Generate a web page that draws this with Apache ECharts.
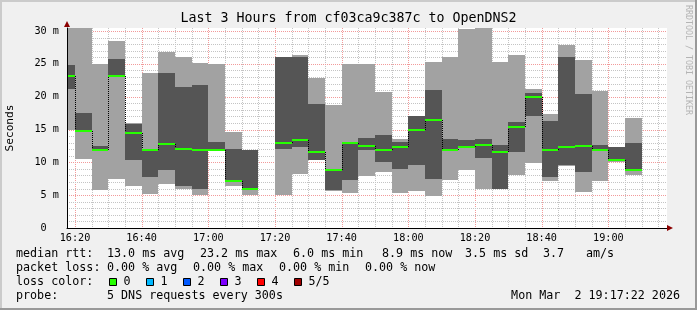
<!DOCTYPE html>
<html><head><meta charset="utf-8">
<script src="https://cdn.jsdelivr.net/npm/echarts@6/dist/echarts.min.js"></script>
<style>html,body{margin:0;padding:0;background:#f0f0f0}#c{width:697px;height:310px}</style>
</head><body><div id="c"></div>
<script>
// ---- data (ms), one entry per 5-minute interval, labelled by interval end ----
const intervalEnds = ['16:20','16:25','16:30','16:35','16:40','16:45','16:50','16:55','17:00','17:05','17:10','17:15','17:20','17:25','17:30','17:35','17:40','17:45','17:50','17:55','18:00','18:05','18:10','18:15','18:20','18:25','18:30','18:35','18:40','18:45','18:50','18:55','19:00','19:05','19:10'];
const pingMin   = [14.9,10.5,5.8,7.5,6.4,5.2,6.7,6.0,5.0,11.7,6.4,5.0,null,5.0,8.2,10.3,5.7,5.3,7.9,8.5,5.3,5.6,4.9,7.3,8.9,5.9,5.9,8.1,9.95,7.2,9.5,5.5,7.2,10.0,8.0];
const pingLow   = [21.2,14.6,11.8,23.0,10.4,7.8,8.8,6.4,6.0,11.8,7.0,5.9,null,12.0,12.3,10.4,5.8,7.3,11.9,10.05,9.0,9.6,7.5,11.85,12.2,10.7,5.95,11.6,17.05,7.8,9.6,8.6,11.7,10.2,8.7];
const medianRtt = [23.2,14.8,11.9,23.2,14.5,11.9,12.8,12.1,11.9,11.9,7.2,6.0,null,13.0,13.45,11.5,8.9,13.0,12.5,11.9,12.3,15.0,16.5,11.9,12.3,12.7,11.6,15.4,20.0,11.9,12.3,12.5,11.9,10.4,8.9];
const pingHigh  = [24.8,17.5,12.5,25.7,15.9,12.1,23.6,21.5,21.8,13.1,12.1,11.9,null,26.0,26.1,18.9,9.0,13.1,13.7,14.2,13.1,17.05,21.0,13.55,13.4,13.5,12.6,16.2,20.5,16.3,26.0,20.4,12.6,12.3,12.9];
const pingMax   = [31,31,25.0,28.5,16.0,23.6,26.8,26.0,25.2,25.0,14.6,11.95,null,26.05,26.3,22.9,18.7,25.0,25.0,20.7,13.55,17.1,25.25,26.0,30.3,31,25.3,26.3,21.2,17.4,27.9,25.6,20.9,12.35,16.75];

// ---- axes ----
const xTickLabels = ['16:20','16:40','17:00','17:20','17:40','18:00','18:20','18:40','19:00'];
const yTickValues = [0,5,10,15,20,25,30];
const viewStart = '16:17:36', viewEnd = '19:17:36';
const stepMinutes = 5;
const yTop = 30.46;

const lossColors = ['#26ff00','#00b8ff','#0059ff','#7e00ff','#ff0000','#a00000'];
const lossLabels = ['0','1','2','3','4','5/5'];

function toMin(s){ const p = s.split(':').map(Number); return p[0]*60 + p[1] + (p[2]||0)/60; }
function fmt(m){ const h = Math.floor(m/60), mm = Math.round(m - h*60); return String(h).padStart(2,'0') + ':' + String(mm).padStart(2,'0'); }

const xMin = toMin(viewStart), xMax = toMin(viewEnd);
const majorX = xTickLabels.map(toMin);

// grid lines: [kind(0 vertical/1 horizontal), value, major]
const gridLines = [];
for (let t = toMin('16:20'); t < xMax; t += stepMinutes) gridLines.push([0, t, majorX.indexOf(t) >= 0 ? 1 : 0]);
for (let v = 1; v <= 30; v++) gridLines.push([1, v, v % 5 === 0 ? 1 : 0]);

// bar data
const bars = [];
intervalEnds.forEach((e, i) => {
  if (medianRtt[i] == null) return;
  const end = toMin(e);
  const prev = (i > 0 && medianRtt[i-1] != null) ? medianRtt[i-1] : -1;
  bars.push([end - stepMinutes, end, pingMin[i], pingLow[i], medianRtt[i], pingHigh[i], pingMax[i], prev]);
});

const mono = 'DejaVu Sans Mono';
const legendFont = '11.7px "' + mono + '"';

function renderGrid(params, api){
  const cs = params.coordSys;
  const kind = api.value(0), v = api.value(1), major = api.value(2);
  const color = major ? '#f29a9a' : '#c4c4c4';
  if (kind === 0) {
    const x = Math.round(api.coord([v, 0])[0]) + 0.5;
    return {type:'line', shape:{x1:x, y1:cs.y, x2:x, y2:cs.y+cs.height}, style:{stroke:color, lineWidth:1, lineDash:[1,1]}, silent:true};
  } else {
    const y = Math.round(api.coord([xMin, v])[1]) + 0.5;
    return {type:'line', shape:{x1:cs.x, y1:y, x2:cs.x+cs.width, y2:y}, style:{stroke:color, lineWidth:1, lineDash:[1,1]}, silent:true};
  }
}

function renderBar(params, api){
  const cs = params.coordSys;
  const X = v => Math.round(api.coord([v, 0])[0]);
  const Y = v => Math.round(api.coord([xMin, v])[1]);
  const xa = Math.max(cs.x, X(api.value(0)));
  const xb = Math.min(cs.x + cs.width, X(api.value(1)));
  const w = xb - xa;
  if (w <= 0) return null;
  const yMax = Math.max(cs.y, Y(api.value(6)));
  const yMinv = Y(api.value(2));
  const yHigh = Math.max(cs.y, Y(api.value(5)));
  const yLow = Y(api.value(3));
  const yMed = Y(api.value(4));
  const prev = api.value(7);
  const children = [
    {type:'rect', shape:{x:xa, y:yMax, width:w, height:Math.max(0, yMinv - yMax)}, style:{fill:'#a2a2a2'}},
    {type:'rect', shape:{x:xa, y:yHigh, width:w, height:Math.max(1, yLow - yHigh)}, style:{fill:'#555555'}}
  ];
  if (prev >= 0 && X(api.value(0)) >= cs.x) {
    const yp = Y(prev);
    children.push({type:'line', shape:{x1:xa+0.5, y1:yp, x2:xa+0.5, y2:yMed}, style:{stroke:'#000', lineWidth:1, lineDash:[1,1]}});
  }
  children.push({type:'rect', shape:{x:xa, y:yMed-1, width:w, height:2}, style:{fill:lossColors[0]}});
  return {type:'group', children};
}

const chart = echarts.init(document.getElementById('c'), null, {renderer:'canvas'});

function label(text, x, y, align){
  return {type:'text', x, y, silent:true, style:{text, fill:'#000', font:legendFont, align:align || 'left', verticalAlign:'middle'}};
}

const graphics = [
  // frame
  {type:'rect', shape:{x:0, y:0, width:697, height:2}, style:{fill:'#cbcbcb'}, silent:true},
  {type:'rect', shape:{x:0, y:0, width:2, height:310}, style:{fill:'#cbcbcb'}, silent:true},
  {type:'rect', shape:{x:0, y:308, width:697, height:2}, style:{fill:'#999999'}, silent:true},
  {type:'rect', shape:{x:695, y:0, width:2, height:310}, style:{fill:'#999999'}, silent:true},
  // arrows
  {type:'polygon', shape:{points:[[64,27],[70,27],[67,21]]}, style:{fill:'#8b0000'}, silent:true, z:50},
  {type:'polygon', shape:{points:[[667,225],[667,231],[673,228]]}, style:{fill:'#8b0000'}, silent:true, z:50},
  // title
  {type:'text', x:348.5, y:19, silent:true, style:{text:'Last 3 Hours from cf03ca9c387c to OpenDNS2', fill:'#000', font:'13.3px "' + mono + '"', align:'center', verticalAlign:'middle'}},
  // y axis name
  {type:'text', x:10, y:128, rotation:Math.PI/2, silent:true, style:{text:'Seconds', fill:'#000', font:'11.2px "' + mono + '"', align:'center', verticalAlign:'middle'}},
  // watermark
  {type:'text', x:688, y:5, rotation:-Math.PI/2, silent:true, style:{text:'RRDTOOL / TOBI OETIKER', fill:'#b4b4b4', font:'8.3px "' + mono + '"', align:'left', verticalAlign:'middle'}},
  // legend line 1
  label('median rtt:', 16, 254), label('13.0 ms avg', 107, 254), label('23.2 ms max', 200, 254),
  label('6.0 ms min', 293, 254), label('8.9 ms now', 382, 254), label('3.5 ms sd', 465, 254),
  label('3.7', 543, 254), label('am/s', 586, 254),
  // legend line 2
  label('packet loss:', 16, 268), label('0.00 % avg', 107, 268), label('0.00 % max', 193, 268),
  label('0.00 % min', 279, 268), label('0.00 % now', 365, 268),
  // legend line 3
  label('loss color:', 16, 282),
  // legend line 4
  label('probe:', 16, 296), label('5 DNS requests every 300s', 107, 296),
  label('Mon Mar  2 19:17:22 2026', 680, 296, 'right')
];
lossColors.forEach((c, i) => {
  graphics.push({type:'rect', shape:{x:109.5 + 37*i, y:278.5, width:7, height:7}, style:{fill:c, stroke:'#000', lineWidth:1}, silent:true});
  graphics.push(label(lossLabels[i], 123.5 + 37*i, 282));
});

chart.setOption({
  backgroundColor:'#f0f0f0',
  animation:false,
  grid:{left:67, right:30, top:28, bottom:82, show:true, backgroundColor:'#ffffff', borderWidth:0},
  xAxis:{
    type:'value', min:xMin, max:xMax, z:10,
    axisLine:{show:true, onZero:false, lineStyle:{color:'#000', width:1}},
    axisTick:{show:false},
    splitLine:{show:false},
    axisLabel:{customValues:majorX, formatter:v => fmt(v), color:'#000', fontFamily:mono, fontSize:10.2, margin:5}
  },
  yAxis:{
    type:'value', min:0, max:yTop, z:10,
    axisLine:{show:true, lineStyle:{color:'#000', width:1}},
    axisTick:{show:false},
    splitLine:{show:false},
    axisLabel:{customValues:yTickValues, formatter:v => v === 0 ? '0  ' : v + ' m', color:'#000', fontFamily:mono, fontSize:10.2, margin:8}
  },
  graphic:graphics,
  series:[
    {type:'custom', z:1, silent:true, renderItem:renderGrid, data:gridLines, encode:{x:1}},
    {type:'custom', z:3, silent:true, renderItem:renderBar, data:bars, encode:{x:[0,1], y:[2,6]}}
  ]
});
</script></body></html>
